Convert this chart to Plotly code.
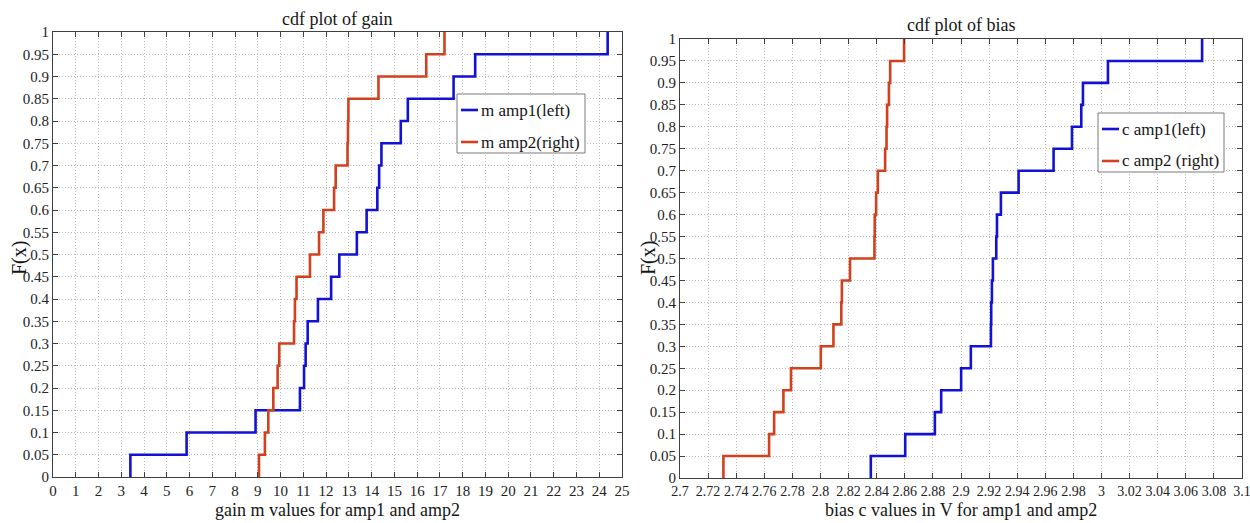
import plotly.graph_objects as go

# ---- data (20 samples per series) ----
gain_amp1 = [3.40, 5.87, 8.90, 10.85, 11.03, 11.10, 11.19, 11.64, 12.22, 12.58,
             13.35, 13.78, 14.25, 14.33, 14.43, 15.28, 15.59, 17.60, 18.55, 24.37]
gain_amp2 = [9.05, 9.31, 9.46, 9.68, 9.87, 9.94, 10.59, 10.63, 10.70, 11.29,
             11.69, 11.88, 12.35, 12.42, 12.94, 12.96, 12.98, 14.30, 16.40, 17.20]
bias_amp1 = [2.8358, 2.8603, 2.8814, 2.8859, 2.9001, 2.9070, 2.9213, 2.9215, 2.9220, 2.9227,
             2.9251, 2.9256, 2.9284, 2.9410, 2.9659, 2.9790, 2.9856, 2.9868, 3.0046, 3.0716]
bias_amp2 = [2.7309, 2.7634, 2.7670, 2.7736, 2.7790, 2.8002, 2.8092, 2.8148, 2.8152, 2.8210,
             2.8384, 2.8386, 2.8396, 2.8408, 2.8460, 2.8470, 2.8474, 2.8487, 2.8496, 2.8595]

gain_tick_labels = ["0", "1", "2", "3", "4", "5", "6", "7", "8", "9", "10", "11", "12",
                    "13", "14", "15", "16", "17", "18", "19", "20", "21", "22", "23", "24", "25"]
bias_tick_labels = ["2.7", "2.72", "2.74", "2.76", "2.78", "2.8", "2.82", "2.84", "2.86",
                    "2.88", "2.9", "2.92", "2.94", "2.96", "2.98", "3", "3.02", "3.04",
                    "3.06", "3.08", "3.1"]
f_tick_labels = ["0", "0.05", "0.1", "0.15", "0.2", "0.25", "0.3", "0.35", "0.4", "0.45",
                 "0.5", "0.55", "0.6", "0.65", "0.7", "0.75", "0.8", "0.85", "0.9", "0.95", "1"]

legend_gain = ["m amp1(left)", "m amp2(right)"]
legend_bias = ["c amp1(left)", "c amp2 (right)"]

BLUE = "#1212d4"
RED = "#d2401e"
FONT = "Liberation Serif"
TXT = "#151515"


def ecdf(samples):
    xs = sorted(samples)
    n = len(xs)
    x = [xs[0]] + xs
    y = [0.0] + [(i + 1) / n for i in range(n)]
    return x, y


fig = go.Figure()

for vals, name, color, xa, ya in [
    (gain_amp1, legend_gain[0], BLUE, "x", "y"),
    (gain_amp2, legend_gain[1], RED, "x", "y"),
    (bias_amp1, legend_bias[0], BLUE, "x2", "y2"),
    (bias_amp2, legend_bias[1], RED, "x2", "y2"),
]:
    x, y = ecdf(vals)
    fig.add_trace(go.Scatter(x=x, y=y, mode="lines", name=name,
                             line=dict(color=color, width=2.6, shape="hv"),
                             xaxis=xa, yaxis=ya, showlegend=False))

W, H = 1250, 523


def px_x(p):
    return p / W


def px_y(p):
    return 1 - p / H


def axis_style(size):
    return dict(
        showgrid=True, gridcolor="#bcbcbc", griddash="1px,2px", gridwidth=1,
        showline=True, linecolor="#404040", linewidth=1, mirror="ticks",
        ticks="inside", ticklen=5, tickcolor="#404040",
        zeroline=False, automargin=False, ticklabeloverflow="allow",
        tickfont=dict(family=FONT, size=size, color="#222222"),
    )


f_vals = [float(s) for s in f_tick_labels]

fig.update_layout(
    width=W, height=H,
    margin=dict(l=0, r=0, t=0, b=0, autoexpand=False),
    paper_bgcolor="white", plot_bgcolor="white",
    font=dict(family=FONT, color=TXT),
    showlegend=False,
    xaxis=dict(domain=[px_x(53), px_x(622)], range=[0, 25], anchor="y",
               tickvals=[float(s) for s in gain_tick_labels], ticktext=gain_tick_labels,
               **axis_style(15)),
    yaxis=dict(domain=[px_y(477), px_y(32)], range=[0, 1], anchor="x",
               tickvals=f_vals, ticktext=f_tick_labels, **axis_style(15)),
    xaxis2=dict(domain=[px_x(680), px_x(1242)], range=[2.7, 3.1], anchor="y2",
                tickvals=[float(s) for s in bias_tick_labels], ticktext=bias_tick_labels,
                **axis_style(14)),
    yaxis2=dict(domain=[px_y(478), px_y(39)], range=[0, 1], anchor="x2",
                tickvals=f_vals, ticktext=f_tick_labels, **axis_style(15)),
)

lab_font = dict(family=FONT, size=18, color=TXT)
annotations = [
    dict(text="cdf plot of gain", x=px_x(337), y=px_y(31), xref="paper", yref="paper",
         xanchor="center", yanchor="bottom", showarrow=False,
         font=dict(family=FONT, size=18, color=TXT)),
    dict(text="cdf plot of bias", x=px_x(961), y=px_y(37), xref="paper", yref="paper",
         xanchor="center", yanchor="bottom", showarrow=False,
         font=dict(family=FONT, size=18, color=TXT)),
    dict(text="gain m values for amp1 and amp2", x=px_x(337), y=px_y(510), xref="paper",
         yref="paper", xanchor="center", yanchor="middle", showarrow=False, font=lab_font),
    dict(text="bias c values in V for amp1 and amp2", x=px_x(961), y=px_y(510), xref="paper",
         yref="paper", xanchor="center", yanchor="middle", showarrow=False, font=lab_font),
    dict(text="F(x)", x=px_x(19), y=px_y(258), xref="paper", yref="paper",
         xanchor="center", yanchor="middle", textangle=-90, showarrow=False,
         font=dict(family=FONT, size=20, color=TXT)),
    dict(text="F(x)", x=px_x(648), y=px_y(258), xref="paper", yref="paper",
         xanchor="center", yanchor="middle", textangle=-90, showarrow=False,
         font=dict(family=FONT, size=20, color=TXT)),
]

shapes = []
# custom MATLAB-style legends (box, short line sample, text)
for (bx0, by0, bx1, by1, rows, labels) in [
    (457, 94, 585, 153, [110, 142], legend_gain),
    (1098, 113, 1224, 172, [129, 161], legend_bias),
]:
    shapes.append(dict(type="rect", xref="paper", yref="paper",
                       x0=px_x(bx0), x1=px_x(bx1), y0=px_y(by1), y1=px_y(by0),
                       line=dict(color="#7a7a7a", width=1), fillcolor="white", layer="above"))
    for ry, lab, col in zip(rows, labels, [BLUE, RED]):
        shapes.append(dict(type="line", xref="paper", yref="paper",
                           x0=px_x(bx0 + 4), x1=px_x(bx0 + 21), y0=px_y(ry), y1=px_y(ry),
                           line=dict(color=col, width=2.6), layer="above"))
        annotations.append(dict(text=lab, x=px_x(bx0 + 22), y=px_y(ry), xref="paper",
                                yref="paper", xanchor="left", yanchor="middle",
                                showarrow=False, font=dict(family=FONT, size=17, color=TXT)))

fig.update_layout(annotations=annotations, shapes=shapes)

fig.write_html(
    "out.html",
    config={"displayModeBar": False},
    post_script="document.body.style.margin='0';document.body.style.overflow='hidden';",
)
